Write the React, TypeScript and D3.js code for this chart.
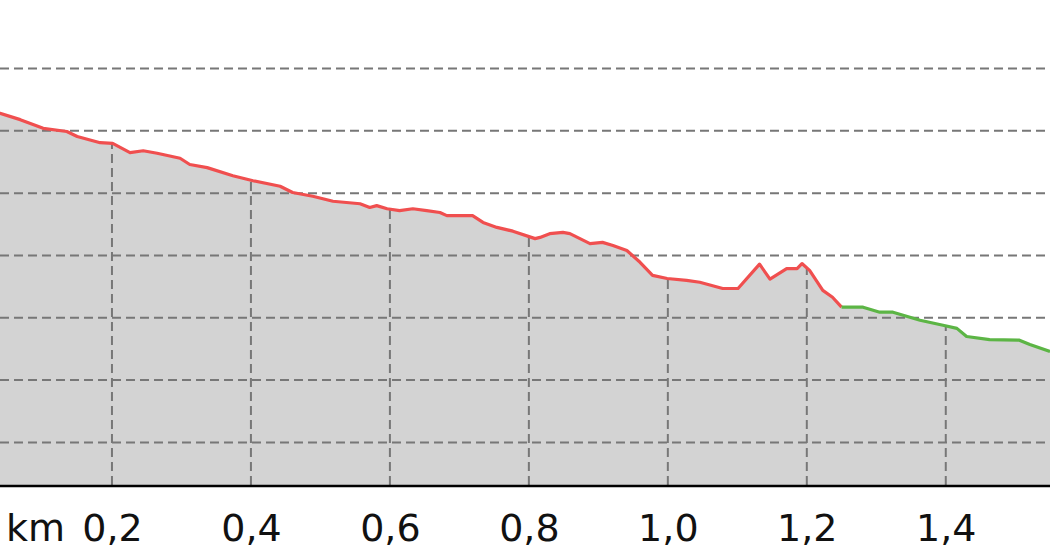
import { useEffect, useRef } from 'react';
import * as d3 from 'd3';

// distance along the track (km) and elevation (m)
const distanceKm = [
  0.0, 0.039, 0.068, 0.101, 0.135, 0.15, 0.183, 0.201, 0.226, 0.245, 0.265, 0.298, 0.312, 0.337,
  0.374, 0.403, 0.442, 0.46, 0.489, 0.518, 0.557, 0.571, 0.581, 0.596, 0.614, 0.633, 0.653, 0.672,
  0.682, 0.719, 0.734, 0.754, 0.777, 0.809, 0.816, 0.83, 0.849, 0.859, 0.888, 0.906, 0.921, 0.941,
  0.96, 0.978, 0.999, 1.027, 1.046, 1.079, 1.101, 1.132, 1.147, 1.171, 1.186, 1.193, 1.204, 1.223,
  1.237, 1.25, 1.281, 1.305, 1.324, 1.363, 1.396, 1.416, 1.43, 1.463, 1.506, 1.521, 1.55
];
const elevationM = [
  294.1, 292.8, 291.8, 290.4, 289.9, 289.1, 288.1, 288.0, 286.5, 286.8, 286.4, 285.6, 284.6, 284.1,
  282.8, 282.0, 281.1, 280.1, 279.5, 278.7, 278.3, 277.7, 278.0, 277.5, 277.2, 277.5, 277.2, 276.9,
  276.4, 276.4, 275.3, 274.5, 273.9, 272.7, 272.9, 273.5, 273.7, 273.5, 271.9, 272.1, 271.6, 270.8,
  268.9, 266.8, 266.3, 266.0, 265.7, 264.7, 264.7, 268.6, 266.2, 267.9, 267.9, 268.7, 267.6, 264.4,
  263.3, 261.7, 261.7, 260.9, 260.9, 259.6, 258.8, 258.3, 257.0, 256.5, 256.4, 255.7, 254.6
];
// the track colour changes from red to green here
const colourSplitKm = 1.25;

const xTickValues = [0.2, 0.4, 0.6, 0.8, 1.0, 1.2, 1.4];
const yGridValues = [240, 250, 260, 270, 280, 290, 300];

const WIDTH = 1050;
const HEIGHT = 560;

export default function App() {
  const svgRef = useRef<SVGSVGElement>(null);

  useEffect(() => {
    if (!svgRef.current) return;
    d3.select(svgRef.current).selectAll('*').remove();

    const plotBottom = 486;
    const svg = d3.select(svgRef.current).attr('width', WIDTH).attr('height', HEIGHT);

    const points = distanceKm.map((d, i) => ({ km: d, ele: elevationM[i] }));
    const redPart = points.filter(p => p.km <= colourSplitKm);
    const greenPart = points.filter(p => p.km >= colourSplitKm);

    const xScale = d3.scaleLinear().domain([0, 1.55]).range([-27, WIDTH]);
    const yScale = d3.scaleLinear().domain([233, 311]).range([plotBottom, 0]);

    const area = d3
      .area<typeof points[0]>()
      .x(d => xScale(d.km))
      .y0(plotBottom)
      .y1(d => yScale(d.ele));

    const line = d3
      .line<typeof points[0]>()
      .x(d => xScale(d.km))
      .y(d => yScale(d.ele));

    svg
      .append('defs')
      .append('clipPath')
      .attr('id', 'profileClip')
      .append('path')
      .attr('d', area(points));

    // Area under the profile
    svg.append('path').datum(points).attr('d', area).attr('fill', '#d3d3d3');

    // Vertical grid, only inside the area
    svg
      .append('g')
      .attr('clip-path', 'url(#profileClip)')
      .selectAll('line')
      .data(xTickValues)
      .enter()
      .append('line')
      .attr('x1', d => xScale(d))
      .attr('x2', d => xScale(d))
      .attr('y1', 0)
      .attr('y2', plotBottom)
      .attr('stroke', '#777')
      .attr('stroke-width', 2)
      .attr('stroke-dasharray', '9,5');

    // Horizontal grid
    svg
      .append('g')
      .selectAll('line')
      .data(yGridValues)
      .enter()
      .append('line')
      .attr('x1', 0)
      .attr('x2', WIDTH)
      .attr('y1', d => yScale(d))
      .attr('y2', d => yScale(d))
      .attr('stroke', '#777')
      .attr('stroke-width', 2)
      .attr('stroke-dasharray', '9,5');

    // Profile line
    svg
      .append('path')
      .datum(redPart)
      .attr('d', line)
      .attr('fill', 'none')
      .attr('stroke', '#f04f4f')
      .attr('stroke-width', 3.2)
      .attr('stroke-linejoin', 'round');

    svg
      .append('path')
      .datum(greenPart)
      .attr('d', line)
      .attr('fill', 'none')
      .attr('stroke', '#5cb545')
      .attr('stroke-width', 3.2)
      .attr('stroke-linejoin', 'round');

    // X axis
    const locale = d3.formatLocale({ decimal: ',', thousands: '.', grouping: [3], currency: ['', '€'] });
    const xAxis = d3
      .axisBottom(xScale)
      .tickValues(xTickValues)
      .tickFormat(d => locale.format('.1f')(d as number))
      .tickSize(0)
      .tickSizeOuter(0);

    const axisG = svg
      .append('g')
      .attr('transform', `translate(0,${plotBottom})`)
      .call(xAxis);

    axisG.select('.domain').remove();
    axisG
      .append('line')
      .attr('x1', 0)
      .attr('x2', WIDTH)
      .attr('stroke', '#000')
      .attr('stroke-width', 2.5);

    axisG
      .selectAll('text')
      .attr('y', 55)
      .attr('dy', 0)
      .attr('fill', '#111')
      .style('font-family', 'DejaVu Sans')
      .style('font-size', '38px');

    axisG
      .append('text')
      .attr('x', 6)
      .attr('y', 55)
      .attr('fill', '#111')
      .attr('text-anchor', 'start')
      .style('font-family', 'DejaVu Sans')
      .style('font-size', '38px')
      .text('km');
  }, []);

  return (
    <div>
      <style>{'body{margin:0;}'}</style>
      <svg ref={svgRef} style={{ display: 'block' }}></svg>
    </div>
  );
}
